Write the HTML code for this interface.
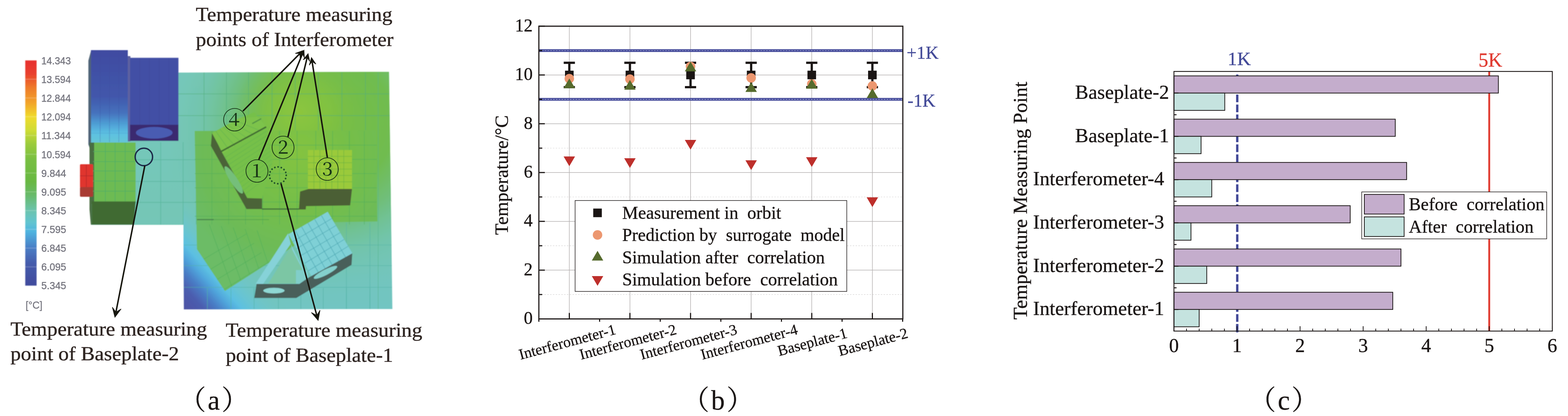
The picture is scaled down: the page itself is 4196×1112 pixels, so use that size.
<!DOCTYPE html>
<html lang="en"><head><meta charset="utf-8"><title>Figure</title>
<style>
html,body{margin:0;padding:0;background:#fff;}
body{width:4196px;height:1112px;overflow:hidden;}
svg{display:block;}
text{font-family:"Liberation Serif", "Noto Serif CJK SC", serif;white-space:pre;}
</style></head><body>
<svg width="4196" height="1112" viewBox="0 0 4196 1112">
<rect width="4196" height="1112" fill="#ffffff"/>
<defs>
<filter id="blr" x="-5%" y="-5%" width="110%" height="110%"><feGaussianBlur stdDeviation="1.1"/></filter>
<filter id="blt" x="-5%" y="-20%" width="110%" height="140%"><feGaussianBlur stdDeviation="0.7"/></filter>
<linearGradient id="cbar" x1="0" y1="0" x2="0" y2="1">
<stop offset="0" stop-color="#e7302e"/>
<stop offset="0.06" stop-color="#e8402d"/>
<stop offset="0.12" stop-color="#ee7a2b"/>
<stop offset="0.19" stop-color="#f2a52b"/>
<stop offset="0.25" stop-color="#f0da2c"/>
<stop offset="0.31" stop-color="#cfdc35"/>
<stop offset="0.37" stop-color="#9ccb3c"/>
<stop offset="0.44" stop-color="#78bf42"/>
<stop offset="0.54" stop-color="#68b843"/>
<stop offset="0.60" stop-color="#67ba6c"/>
<stop offset="0.67" stop-color="#6cc4b0"/>
<stop offset="0.72" stop-color="#62c4d0"/>
<stop offset="0.76" stop-color="#4fb4e0"/>
<stop offset="0.83" stop-color="#4a7fc6"/>
<stop offset="0.90" stop-color="#455cac"/>
<stop offset="1" stop-color="#414a9c"/>
</linearGradient>
<linearGradient id="tall" x1="0" y1="0" x2="0" y2="1">
<stop offset="0" stop-color="#414ba1"/>
<stop offset="0.5" stop-color="#4257ab"/>
<stop offset="0.68" stop-color="#4572bd"/>
<stop offset="0.8" stop-color="#4f9fd6"/>
<stop offset="0.9" stop-color="#5cc0e2"/>
<stop offset="1" stop-color="#66c6d6"/>
</linearGradient>
<linearGradient id="plateH" gradientUnits="userSpaceOnUse" x1="0" y1="193" x2="0" y2="827">
<stop offset="0" stop-color="#76c8be"/>
<stop offset="0.6" stop-color="#74c6b6"/>
<stop offset="1" stop-color="#72c5c2"/>
</linearGradient>
<radialGradient id="gtop" cx="880" cy="330" r="460" gradientUnits="userSpaceOnUse">
<stop offset="0" stop-color="#78be44" stop-opacity="1"/>
<stop offset="0.38" stop-color="#70bc50" stop-opacity="1"/>
<stop offset="0.55" stop-color="#6fbe74" stop-opacity="0.9"/>
<stop offset="0.75" stop-color="#71c3a0" stop-opacity="0.55"/>
<stop offset="1" stop-color="#74c6b6" stop-opacity="0"/>
</radialGradient>
<radialGradient id="gtop2" cx="800" cy="300" r="170" gradientUnits="userSpaceOnUse">
<stop offset="0" stop-color="#8cc63e" stop-opacity="1"/>
<stop offset="0.5" stop-color="#84c340" stop-opacity="0.7"/>
<stop offset="1" stop-color="#78be44" stop-opacity="0"/>
</radialGradient>
<linearGradient id="bcorner" gradientUnits="userSpaceOnUse" x1="490" y1="829" x2="650" y2="686">
<stop offset="0" stop-color="#4e52a3"/>
<stop offset="0.2" stop-color="#4c5cae"/>
<stop offset="0.34" stop-color="#4a7ec6"/>
<stop offset="0.46" stop-color="#50a6dc"/>
<stop offset="0.56" stop-color="#5cc0e2"/>
<stop offset="0.72" stop-color="#68c5d4" stop-opacity="0.7"/>
<stop offset="1" stop-color="#74c6b8" stop-opacity="0"/>
</linearGradient>
<radialGradient id="ptop" cx="800" cy="410" r="330" gradientUnits="userSpaceOnUse">
<stop offset="0" stop-color="#84c341"/>
<stop offset="0.4" stop-color="#76bf48"/>
<stop offset="0.8" stop-color="#6dbb58"/>
<stop offset="1" stop-color="#6cbc66"/>
</radialGradient>
<clipPath id="plateclip"><polygon points="244,376 477,376 477,194 1041,192 1050,826 492,827 491,601 244,601"/></clipPath>
</defs>
<g id="panel-a">
<g filter="url(#blr)">
<rect x="67.600" y="161.500" width="30.300" height="602" fill="url(#cbar)"/>
<line x1="67.6" x2="97.9" y1="211.7" y2="211.7" stroke="#ffffff" stroke-width="1.500" opacity="0.3"/>
<line x1="67.6" x2="97.9" y1="261.8" y2="261.8" stroke="#ffffff" stroke-width="1.500" opacity="0.3"/>
<line x1="67.6" x2="97.9" y1="312.0" y2="312.0" stroke="#ffffff" stroke-width="1.500" opacity="0.3"/>
<line x1="67.6" x2="97.9" y1="362.2" y2="362.2" stroke="#ffffff" stroke-width="1.500" opacity="0.3"/>
<line x1="67.6" x2="97.9" y1="412.4" y2="412.4" stroke="#ffffff" stroke-width="1.500" opacity="0.3"/>
<line x1="67.6" x2="97.9" y1="462.5" y2="462.5" stroke="#ffffff" stroke-width="1.500" opacity="0.3"/>
<line x1="67.6" x2="97.9" y1="512.7" y2="512.7" stroke="#ffffff" stroke-width="1.500" opacity="0.3"/>
<line x1="67.6" x2="97.9" y1="562.9" y2="562.9" stroke="#ffffff" stroke-width="1.500" opacity="0.3"/>
<line x1="67.6" x2="97.9" y1="613.0" y2="613.0" stroke="#ffffff" stroke-width="1.500" opacity="0.3"/>
<line x1="67.6" x2="97.9" y1="663.2" y2="663.2" stroke="#ffffff" stroke-width="1.500" opacity="0.3"/>
<line x1="67.6" x2="97.9" y1="713.4" y2="713.4" stroke="#ffffff" stroke-width="1.500" opacity="0.3"/>
<g clip-path="url(#plateclip)">
<rect x="240" y="190" width="815" height="640" fill="url(#plateH)"/>
<rect x="240" y="190" width="815" height="640" fill="url(#gtop)"/>
<rect x="240" y="190" width="815" height="640" fill="url(#gtop2)"/>
<rect x="491" y="540" width="565" height="290" fill="url(#bcorner)"/>
<line x1="546" y1="193" x2="546" y2="350" stroke="#4fae7a" stroke-width="2" opacity="0.55"/>
<line x1="606" y1="193" x2="606" y2="350" stroke="#4fae7a" stroke-width="2" opacity="0.55"/>
<line x1="665" y1="193" x2="665" y2="350" stroke="#4fae7a" stroke-width="2" opacity="0.55"/>
<line x1="728" y1="193" x2="728" y2="350" stroke="#4fae7a" stroke-width="2" opacity="0.55"/>
<line x1="790" y1="193" x2="790" y2="350" stroke="#4fae7a" stroke-width="2" opacity="0.55"/>
<line x1="852" y1="193" x2="852" y2="350" stroke="#4fae7a" stroke-width="2" opacity="0.55"/>
<line x1="915" y1="193" x2="915" y2="350" stroke="#4fae7a" stroke-width="2" opacity="0.55"/>
<line x1="978" y1="193" x2="978" y2="350" stroke="#4fae7a" stroke-width="2" opacity="0.55"/>
<line x1="477" y1="251" x2="1045" y2="251" stroke="#4fae7a" stroke-width="2" opacity="0.55"/>
<line x1="477" y1="309" x2="1045" y2="309" stroke="#4fae7a" stroke-width="2" opacity="0.55"/>
<line x1="430" y1="380" x2="430" y2="600" stroke="#52b296" stroke-width="2" opacity="0.6"/>
<line x1="490" y1="380" x2="490" y2="600" stroke="#52b296" stroke-width="2" opacity="0.6"/>
<line x1="525" y1="380" x2="525" y2="600" stroke="#52b296" stroke-width="2" opacity="0.6"/>
<line x1="362" y1="427" x2="525" y2="427" stroke="#52b296" stroke-width="2" opacity="0.6"/>
<line x1="362" y1="485" x2="525" y2="485" stroke="#52b296" stroke-width="2" opacity="0.6"/>
<line x1="362" y1="541" x2="525" y2="541" stroke="#52b296" stroke-width="2" opacity="0.6"/>
<line x1="555" y1="770" x2="555" y2="826" stroke="#52b2a6" stroke-width="2" opacity="0.6"/>
<line x1="618" y1="770" x2="618" y2="826" stroke="#52b2a6" stroke-width="2" opacity="0.6"/>
<line x1="680" y1="770" x2="680" y2="826" stroke="#52b2a6" stroke-width="2" opacity="0.6"/>
<line x1="745" y1="770" x2="745" y2="826" stroke="#52b2a6" stroke-width="2" opacity="0.6"/>
<line x1="805" y1="770" x2="805" y2="826" stroke="#52b2a6" stroke-width="2" opacity="0.6"/>
<line x1="865" y1="770" x2="865" y2="826" stroke="#52b2a6" stroke-width="2" opacity="0.6"/>
<line x1="927" y1="770" x2="927" y2="826" stroke="#52b2a6" stroke-width="2" opacity="0.6"/>
<line x1="990" y1="770" x2="990" y2="826" stroke="#52b2a6" stroke-width="2" opacity="0.6"/>
<line x1="492" y1="655" x2="1050" y2="655" stroke="#52b2a6" stroke-width="2" opacity="0.5"/>
<line x1="492" y1="710" x2="1050" y2="710" stroke="#52b2a6" stroke-width="2" opacity="0.5"/>
<line x1="492" y1="768" x2="1050" y2="768" stroke="#52b2a6" stroke-width="2" opacity="0.5"/>
<line x1="1012" y1="193" x2="1012" y2="826" stroke="#52b28a" stroke-width="2" opacity="0.5"/>
<line x1="927" y1="595" x2="927" y2="826" stroke="#52b2a6" stroke-width="2" opacity="0.5"/>
<line x1="990" y1="595" x2="990" y2="826" stroke="#52b2a6" stroke-width="2" opacity="0.5"/>
</g>
<polygon points="521,350 1006,348 1010,592 880,594 716,705 602,778 527,666" fill="url(#ptop)"/>
<line x1="567" y1="350" x2="567" y2="600" stroke="#4fae5a" stroke-width="2" opacity="0.5"/>
<line x1="612" y1="350" x2="612" y2="600" stroke="#4fae5a" stroke-width="2" opacity="0.5"/>
<line x1="657" y1="350" x2="657" y2="600" stroke="#4fae5a" stroke-width="2" opacity="0.5"/>
<line x1="703" y1="350" x2="703" y2="600" stroke="#4fae5a" stroke-width="2" opacity="0.5"/>
<line x1="748" y1="350" x2="748" y2="600" stroke="#4fae5a" stroke-width="2" opacity="0.5"/>
<line x1="795" y1="350" x2="795" y2="600" stroke="#4fae5a" stroke-width="2" opacity="0.5"/>
<line x1="845" y1="350" x2="845" y2="600" stroke="#4fae5a" stroke-width="2" opacity="0.5"/>
<line x1="890" y1="350" x2="890" y2="600" stroke="#4fae5a" stroke-width="2" opacity="0.5"/>
<line x1="935" y1="350" x2="935" y2="600" stroke="#4fae5a" stroke-width="2" opacity="0.5"/>
<line x1="975" y1="350" x2="975" y2="600" stroke="#4fae5a" stroke-width="2" opacity="0.5"/>
<line x1="521" y1="388" x2="1008" y2="388" stroke="#4fae5a" stroke-width="2" opacity="0.5"/>
<line x1="521" y1="426" x2="1008" y2="426" stroke="#4fae5a" stroke-width="2" opacity="0.5"/>
<line x1="521" y1="464" x2="1008" y2="464" stroke="#4fae5a" stroke-width="2" opacity="0.5"/>
<line x1="521" y1="502" x2="1008" y2="502" stroke="#4fae5a" stroke-width="2" opacity="0.5"/>
<line x1="521" y1="540" x2="1008" y2="540" stroke="#4fae5a" stroke-width="2" opacity="0.5"/>
<line x1="521" y1="578" x2="1008" y2="578" stroke="#4fae5a" stroke-width="2" opacity="0.5"/>
<line x1="545" y1="693" x2="660" y2="625" stroke="#4fae5a" stroke-width="2" opacity="0.55"/>
<line x1="563" y1="720" x2="680" y2="650" stroke="#4fae5a" stroke-width="2" opacity="0.55"/>
<line x1="581" y1="747" x2="700" y2="675" stroke="#4fae5a" stroke-width="2" opacity="0.55"/>
<line x1="599" y1="774" x2="720" y2="700" stroke="#4fae5a" stroke-width="2" opacity="0.55"/>
<line x1="560" y1="600" x2="620" y2="765" stroke="#4fae5a" stroke-width="2" opacity="0.55"/>
<line x1="592" y1="604" x2="644" y2="749" stroke="#4fae5a" stroke-width="2" opacity="0.55"/>
<line x1="624" y1="608" x2="668" y2="733" stroke="#4fae5a" stroke-width="2" opacity="0.55"/>
<line x1="656" y1="612" x2="692" y2="717" stroke="#4fae5a" stroke-width="2" opacity="0.55"/>
<line x1="688" y1="616" x2="716" y2="701" stroke="#4fae5a" stroke-width="2" opacity="0.55"/>
<line x1="527" y1="587" x2="572" y2="587" stroke="#3d6d45" stroke-width="2.500" opacity="0.85"/>
<line x1="572" y1="587" x2="720" y2="587" stroke="#3d8d45" stroke-width="2" opacity="0.45"/>
<polygon points="567,356 628,322 680,300 712,339 730,430 701,531 662,529 583,384" fill="#76c04a"/>
<polygon points="567,356 640,316 690,312 712,339 596,411 583,384" fill="#7dc34c"/>
<line x1="577" y1="350" x2="613" y2="401" stroke="#5aae50" stroke-width="1.500" opacity="0.6"/>
<line x1="588" y1="345" x2="629" y2="390" stroke="#5aae50" stroke-width="1.500" opacity="0.6"/>
<line x1="598" y1="339" x2="646" y2="380" stroke="#5aae50" stroke-width="1.500" opacity="0.6"/>
<line x1="609" y1="333" x2="662" y2="370" stroke="#5aae50" stroke-width="1.500" opacity="0.6"/>
<line x1="619" y1="327" x2="679" y2="360" stroke="#5aae50" stroke-width="1.500" opacity="0.6"/>
<line x1="630" y1="322" x2="695" y2="349" stroke="#5aae50" stroke-width="1.500" opacity="0.6"/>
<line x1="602" y1="421" x2="714" y2="350" stroke="#5aae50" stroke-width="1.500" opacity="0.45"/>
<line x1="607" y1="431" x2="716" y2="361" stroke="#5aae50" stroke-width="1.500" opacity="0.45"/>
<line x1="612" y1="440" x2="718" y2="372" stroke="#5aae50" stroke-width="1.500" opacity="0.45"/>
<line x1="618" y1="450" x2="720" y2="383" stroke="#5aae50" stroke-width="1.500" opacity="0.45"/>
<line x1="624" y1="460" x2="722" y2="394" stroke="#5aae50" stroke-width="1.500" opacity="0.45"/>
<line x1="629" y1="470" x2="724" y2="404" stroke="#5aae50" stroke-width="1.500" opacity="0.45"/>
<line x1="634" y1="480" x2="725" y2="415" stroke="#5aae50" stroke-width="1.500" opacity="0.45"/>
<line x1="640" y1="490" x2="727" y2="426" stroke="#5aae50" stroke-width="1.500" opacity="0.45"/>
<line x1="646" y1="500" x2="729" y2="437" stroke="#5aae50" stroke-width="1.500" opacity="0.45"/>
<line x1="651" y1="509" x2="731" y2="448" stroke="#5aae50" stroke-width="1.500" opacity="0.45"/>
<line x1="656" y1="519" x2="733" y2="459" stroke="#5aae50" stroke-width="1.500" opacity="0.45"/>
<polygon points="567.3,355.9 564.3,390.1 659.6,558.8 701.3,558.8 701.3,530.7 661.8,529.4 595.9,410.8 582.7,384.4" fill="#4b6338"/>
<ellipse cx="625.5" cy="481" rx="43" ry="9.500" transform="rotate(57 625.5 481)" fill="#74bf7a"/>
<line x1="591.5" y1="405" x2="712.3" y2="339.2" stroke="#416a32" stroke-width="4"/>
<line x1="675" y1="330.4" x2="699" y2="317.2" stroke="#4f9045" stroke-width="3"/>
<line x1="701" y1="558.8" x2="800" y2="558.8" stroke="#3e6a3a" stroke-width="3"/>
<line x1="527" y1="587" x2="700" y2="587" stroke="#3d7d45" stroke-width="2.500" opacity="0.0"/>
<rect x="824" y="401" width="118" height="104" fill="#9aca3b"/>
<line x1="840" y1="401" x2="840" y2="505" stroke="#5ea840" stroke-width="1.5" opacity="0.6"/>
<line x1="856" y1="401" x2="856" y2="505" stroke="#5ea840" stroke-width="1.5" opacity="0.6"/>
<line x1="872" y1="401" x2="872" y2="505" stroke="#5ea840" stroke-width="1.5" opacity="0.6"/>
<line x1="888" y1="401" x2="888" y2="505" stroke="#5ea840" stroke-width="1.5" opacity="0.6"/>
<line x1="904" y1="401" x2="904" y2="505" stroke="#5ea840" stroke-width="1.5" opacity="0.6"/>
<line x1="920" y1="401" x2="920" y2="505" stroke="#5ea840" stroke-width="1.5" opacity="0.6"/>
<line x1="824" y1="418" x2="942" y2="418" stroke="#5ea840" stroke-width="1.5" opacity="0.6"/>
<line x1="824" y1="435" x2="942" y2="435" stroke="#5ea840" stroke-width="1.5" opacity="0.6"/>
<line x1="824" y1="452" x2="942" y2="452" stroke="#5ea840" stroke-width="1.5" opacity="0.6"/>
<line x1="824" y1="469" x2="942" y2="469" stroke="#5ea840" stroke-width="1.5" opacity="0.6"/>
<line x1="824" y1="486" x2="942" y2="486" stroke="#5ea840" stroke-width="1.5" opacity="0.6"/>
<polygon points="803,512 826,505 942,505 937,549 819,551 818,560 800,560" fill="#4c5e34"/>
<polygon points="772,626 877,566 943,677 836,743" fill="#7fd0d6"/>
<polygon points="771,624 684,759 704,759 778,652 824,743 800,760 790,700" fill="#86d2d8"/>
<polygon points="778,660 718,758 800,758 822,744" fill="#7cc6a4"/>
<polygon points="792,722 822,722 826,742 800,758 792,758" fill="#82d0d2" opacity="0.8"/>
<line x1="790" y1="616" x2="854" y2="732" stroke="#4fa9b4" stroke-width="2" opacity="0.7"/>
<line x1="783" y1="646" x2="888" y2="584" stroke="#4fa9b4" stroke-width="2" opacity="0.7"/>
<line x1="807" y1="606" x2="872" y2="721" stroke="#4fa9b4" stroke-width="2" opacity="0.7"/>
<line x1="793" y1="665" x2="899" y2="603" stroke="#4fa9b4" stroke-width="2" opacity="0.7"/>
<line x1="824" y1="596" x2="890" y2="710" stroke="#4fa9b4" stroke-width="2" opacity="0.7"/>
<line x1="804" y1="684" x2="910" y2="622" stroke="#4fa9b4" stroke-width="2" opacity="0.7"/>
<line x1="842" y1="586" x2="907" y2="699" stroke="#4fa9b4" stroke-width="2" opacity="0.7"/>
<line x1="815" y1="704" x2="921" y2="640" stroke="#4fa9b4" stroke-width="2" opacity="0.7"/>
<line x1="860" y1="576" x2="925" y2="688" stroke="#4fa9b4" stroke-width="2" opacity="0.7"/>
<line x1="825" y1="724" x2="932" y2="658" stroke="#4fa9b4" stroke-width="2" opacity="0.7"/>
<polygon points="686.6,759 801,759 824,743 942.7,677.3 940.7,708 793,796.500 680.5,796.500" fill="#485e5a"/>
<ellipse cx="733" cy="776.800" rx="28.500" ry="7.600" fill="#8fd8d4"/>
<ellipse cx="871" cy="728" rx="35" ry="7.500" transform="rotate(-27 871 728)" fill="#84d0cc"/>
<rect x="341" y="150" width="8" height="228" fill="#5d62a0"/>
<polygon points="236.5,162 244,134 244,400 241.5,400 236.5,386" fill="#4f6478"/>
<rect x="243.500" y="134" width="98.500" height="247" fill="url(#tall)"/>
<line x1="268" y1="136" x2="268" y2="380" stroke="#3a4a9a" stroke-width="1.500" opacity="0.35"/>
<line x1="293" y1="136" x2="293" y2="380" stroke="#3a4a9a" stroke-width="1.500" opacity="0.35"/>
<line x1="318" y1="136" x2="318" y2="380" stroke="#3a4a9a" stroke-width="1.500" opacity="0.35"/>
<line x1="244" y1="330" x2="342" y2="330" stroke="#4a9ac8" stroke-width="1.500" opacity="0.5"/>
<line x1="244" y1="356" x2="342" y2="356" stroke="#4a9ac8" stroke-width="1.500" opacity="0.5"/>
<polygon points="239.500,381 252.500,381 252.500,545 245.500,545 245.500,600.500 243,600.500 239.500,560" fill="#4a6e42"/>
<rect x="348" y="154.500" width="129.500" height="180" fill="#434fa5"/>
<line x1="374" y1="156" x2="374" y2="334" stroke="#3a4496" stroke-width="1.500" opacity="0.4"/>
<line x1="400" y1="156" x2="400" y2="334" stroke="#3a4496" stroke-width="1.500" opacity="0.4"/>
<line x1="426" y1="156" x2="426" y2="334" stroke="#3a4496" stroke-width="1.500" opacity="0.4"/>
<line x1="452" y1="156" x2="452" y2="334" stroke="#3a4496" stroke-width="1.500" opacity="0.4"/>
<rect x="348" y="333.500" width="129.500" height="43" fill="#3b2a70"/>
<ellipse cx="412.700" cy="354.800" rx="49" ry="15.600" fill="#4a5bb2"/>
<rect x="252" y="381" width="111" height="158" fill="#6dbb52"/>
<line x1="282" y1="381" x2="282" y2="538" stroke="#4fae6a" stroke-width="2" opacity="0.7"/>
<line x1="308" y1="381" x2="308" y2="538" stroke="#4fae6a" stroke-width="2" opacity="0.7"/>
<line x1="335" y1="381" x2="335" y2="538" stroke="#4fae6a" stroke-width="2" opacity="0.7"/>
<line x1="249" y1="405" x2="362" y2="405" stroke="#4fae6a" stroke-width="2" opacity="0.7"/>
<line x1="249" y1="432" x2="362" y2="432" stroke="#4fae6a" stroke-width="2" opacity="0.7"/>
<line x1="249" y1="457" x2="362" y2="457" stroke="#4fae6a" stroke-width="2" opacity="0.7"/>
<line x1="249" y1="484" x2="362" y2="484" stroke="#4fae6a" stroke-width="2" opacity="0.7"/>
<line x1="249" y1="511" x2="362" y2="511" stroke="#4fae6a" stroke-width="2" opacity="0.7"/>
<polygon points="245.500,538.500 363,538.500 358,600.500 245.500,600.500" fill="#416a33"/>
<rect x="214" y="439" width="35" height="63" rx="3" fill="#e0362f"/>
<rect x="214" y="500" width="35" height="26" rx="3" fill="#a83a32"/>
<line x1="231" y1="441" x2="231" y2="500" stroke="#b02a28" stroke-width="1.5"/>
<line x1="214" y1="470" x2="249" y2="470" stroke="#b02a28" stroke-width="1.5"/>
</g>
<g filter="url(#blt)" fill="none" stroke="#17130f" stroke-linecap="butt">
<circle cx="385" cy="419.500" r="23.300" stroke="#1f2c48" stroke-width="3.700"/>
<circle cx="743.500" cy="468.600" r="22.500" stroke="#24552a" stroke-width="4.600" stroke-linecap="round" stroke-dasharray="0.1 8.736"/>
<line x1="387.5" y1="443" x2="308.7" y2="842.1" stroke-width="3.9"/>
<polygon points="307.5,848.0 300.6,821.1 310.2,834.5 324.1,825.8" fill="#17130f" stroke-width="1.5" stroke-linejoin="miter"/>
<line x1="752" y1="491" x2="849.8" y2="850.7" stroke-width="3.9"/>
<polygon points="851.4,856.5 833.3,835.5 847.8,843.2 856.4,829.2" fill="#17130f" stroke-width="1.5" stroke-linejoin="miter"/>
<line x1="650" y1="297" x2="805.8" y2="139.8" stroke-width="3.9"/>
<polygon points="810.0,135.5 803.0,155.3 802.6,142.9 790.2,142.7" fill="#17130f" stroke-width="1.5" stroke-linejoin="miter"/>
<line x1="692" y1="428" x2="811.2" y2="139.5" stroke-width="3.9"/>
<polygon points="813.5,134.0 814.6,155.0 809.5,143.7 797.9,148.1" fill="#17130f" stroke-width="1.5" stroke-linejoin="miter"/>
<line x1="770.5" y1="366" x2="823.1" y2="149.3" stroke-width="3.9"/>
<polygon points="824.5,143.5 828.8,164.1 822.0,153.7 811.3,159.8" fill="#17130f" stroke-width="1.5" stroke-linejoin="miter"/>
<line x1="876" y1="421" x2="834.4" y2="159.9" stroke-width="3.9"/>
<polygon points="833.5,154.0 845.4,171.3 835.1,164.3 827.6,174.2" fill="#17130f" stroke-width="1.5" stroke-linejoin="miter"/>
</g>
<g filter="url(#blt)">
<text x="595.0" y="344.8" font-size="66" fill="#173016" style='font-family:"Noto Serif CJK SC","Noto Sans CJK SC",serif'>④</text>
<text x="724.5" y="419.0" font-size="66" fill="#173016" style='font-family:"Noto Serif CJK SC","Noto Sans CJK SC",serif'>②</text>
<text x="654.7" y="481.9" font-size="66" fill="#173016" style='font-family:"Noto Serif CJK SC","Noto Sans CJK SC",serif'>①</text>
<text x="842.8" y="476.6" font-size="66" fill="#173016" style='font-family:"Noto Serif CJK SC","Noto Sans CJK SC",serif'>③</text>
<text x="110.5" y="172.0" font-size="28" fill="#74747e" text-anchor="start" style='font-family:"Liberation Sans", sans-serif' textLength="79" lengthAdjust="spacingAndGlyphs" stroke="#74747e" stroke-width="0.5">14.343</text>
<text x="110.5" y="222.1" font-size="28" fill="#74747e" text-anchor="start" style='font-family:"Liberation Sans", sans-serif' textLength="79" lengthAdjust="spacingAndGlyphs" stroke="#74747e" stroke-width="0.5">13.594</text>
<text x="110.5" y="272.2" font-size="28" fill="#74747e" text-anchor="start" style='font-family:"Liberation Sans", sans-serif' textLength="79" lengthAdjust="spacingAndGlyphs" stroke="#74747e" stroke-width="0.5">12.844</text>
<text x="110.5" y="322.3" font-size="28" fill="#74747e" text-anchor="start" style='font-family:"Liberation Sans", sans-serif' textLength="79" lengthAdjust="spacingAndGlyphs" stroke="#74747e" stroke-width="0.5">12.094</text>
<text x="110.5" y="372.4" font-size="28" fill="#74747e" text-anchor="start" style='font-family:"Liberation Sans", sans-serif' textLength="79" lengthAdjust="spacingAndGlyphs" stroke="#74747e" stroke-width="0.5">11.344</text>
<text x="110.5" y="422.5" font-size="28" fill="#74747e" text-anchor="start" style='font-family:"Liberation Sans", sans-serif' textLength="79" lengthAdjust="spacingAndGlyphs" stroke="#74747e" stroke-width="0.5">10.594</text>
<text x="110.5" y="472.6" font-size="28" fill="#74747e" text-anchor="start" style='font-family:"Liberation Sans", sans-serif' textLength="66.5" lengthAdjust="spacingAndGlyphs" stroke="#74747e" stroke-width="0.5">9.844</text>
<text x="110.5" y="522.7" font-size="28" fill="#74747e" text-anchor="start" style='font-family:"Liberation Sans", sans-serif' textLength="66.5" lengthAdjust="spacingAndGlyphs" stroke="#74747e" stroke-width="0.5">9.095</text>
<text x="110.5" y="572.8" font-size="28" fill="#74747e" text-anchor="start" style='font-family:"Liberation Sans", sans-serif' textLength="66.5" lengthAdjust="spacingAndGlyphs" stroke="#74747e" stroke-width="0.5">8.345</text>
<text x="110.5" y="622.9000000000001" font-size="28" fill="#74747e" text-anchor="start" style='font-family:"Liberation Sans", sans-serif' textLength="66.5" lengthAdjust="spacingAndGlyphs" stroke="#74747e" stroke-width="0.5">7.595</text>
<text x="110.5" y="673.0" font-size="28" fill="#74747e" text-anchor="start" style='font-family:"Liberation Sans", sans-serif' textLength="66.5" lengthAdjust="spacingAndGlyphs" stroke="#74747e" stroke-width="0.5">6.845</text>
<text x="110.5" y="723.1" font-size="28" fill="#74747e" text-anchor="start" style='font-family:"Liberation Sans", sans-serif' textLength="66.5" lengthAdjust="spacingAndGlyphs" stroke="#74747e" stroke-width="0.5">6.095</text>
<text x="110.5" y="773.2" font-size="28" fill="#74747e" text-anchor="start" style='font-family:"Liberation Sans", sans-serif' textLength="66.5" lengthAdjust="spacingAndGlyphs" stroke="#74747e" stroke-width="0.5">5.345</text>
<text x="68.5" y="825" font-size="28" fill="#74747e" text-anchor="start" style='font-family:"Liberation Sans", sans-serif' textLength="45" lengthAdjust="spacingAndGlyphs" stroke="#74747e" stroke-width="0.4">[°C]</text>
<text x="524" y="55.8" font-size="52.5" fill="#2e2522" text-anchor="start" textLength="526" lengthAdjust="spacingAndGlyphs" stroke="#2e2522" stroke-width="0.55">Temperature measuring</text>
<text x="524" y="123.2" font-size="52.5" fill="#2e2522" text-anchor="start" textLength="529" lengthAdjust="spacingAndGlyphs" stroke="#2e2522" stroke-width="0.55">points of Interferometer</text>
<text x="28" y="896.5" font-size="52.5" fill="#2e2522" text-anchor="start" textLength="526" lengthAdjust="spacingAndGlyphs" stroke="#2e2522" stroke-width="0.55">Temperature measuring</text>
<text x="28" y="963" font-size="52.5" fill="#2e2522" text-anchor="start" textLength="451" lengthAdjust="spacingAndGlyphs" stroke="#2e2522" stroke-width="0.55">point of Baseplate-2</text>
<text x="604" y="899.5" font-size="52.5" fill="#2e2522" text-anchor="start" textLength="526" lengthAdjust="spacingAndGlyphs" stroke="#2e2522" stroke-width="0.55">Temperature measuring</text>
<text x="604" y="966.8" font-size="52.5" fill="#2e2522" text-anchor="start" textLength="448" lengthAdjust="spacingAndGlyphs" stroke="#2e2522" stroke-width="0.55">point of Baseplate-1</text>
</g>
<text y="1095.300" font-size="73" fill="#1a1514" stroke="#1a1514" stroke-width="0.4"><tspan x="478.5">（</tspan><tspan x="555.7">a</tspan><tspan x="592.4">）</tspan></text>
</g>
<g id="panel-b">
<line x1="1442" x2="2416" y1="722.1" y2="722.1" stroke="#b4b0b0" stroke-width="1.500"/>
<line x1="1442" x2="2416" y1="591.7" y2="591.7" stroke="#b4b0b0" stroke-width="1.500"/>
<line x1="1442" x2="2416" y1="461.2" y2="461.2" stroke="#b4b0b0" stroke-width="1.500"/>
<line x1="1442" x2="2416" y1="330.8" y2="330.8" stroke="#b4b0b0" stroke-width="1.500"/>
<line x1="1442" x2="2416" y1="200.4" y2="200.4" stroke="#b4b0b0" stroke-width="1.500"/>
<line x1="1442" x2="2416" y1="787.3" y2="787.3" stroke="#d4d2d2" stroke-width="1.200" stroke-dasharray="4 3.500"/>
<line x1="1442" x2="2416" y1="656.9" y2="656.9" stroke="#d4d2d2" stroke-width="1.200" stroke-dasharray="4 3.500"/>
<line x1="1442" x2="2416" y1="526.5" y2="526.5" stroke="#d4d2d2" stroke-width="1.200" stroke-dasharray="4 3.500"/>
<line x1="1442" x2="2416" y1="396.0" y2="396.0" stroke="#d4d2d2" stroke-width="1.200" stroke-dasharray="4 3.500"/>
<line x1="1442" x2="2416" y1="265.6" y2="265.6" stroke="#d4d2d2" stroke-width="1.200" stroke-dasharray="4 3.500"/>
<line x1="1442" x2="2416" y1="135.2" y2="135.2" stroke="#d4d2d2" stroke-width="1.200" stroke-dasharray="4 3.500"/>
<line x1="1523.5" x2="1523.5" y1="70" y2="852.5" stroke="#b4b0b0" stroke-width="1.500"/>
<line x1="1685.7" x2="1685.7" y1="70" y2="852.5" stroke="#b4b0b0" stroke-width="1.500"/>
<line x1="1847.9" x2="1847.9" y1="70" y2="852.5" stroke="#b4b0b0" stroke-width="1.500"/>
<line x1="2010.1" x2="2010.1" y1="70" y2="852.5" stroke="#b4b0b0" stroke-width="1.500"/>
<line x1="2172.3" x2="2172.3" y1="70" y2="852.5" stroke="#b4b0b0" stroke-width="1.500"/>
<line x1="2334.5" x2="2334.5" y1="70" y2="852.5" stroke="#b4b0b0" stroke-width="1.500"/>
<line x1="1442" x2="2416" y1="135.2" y2="135.2" stroke="#474d9b" stroke-width="7.500"/>
<line x1="1450" x2="2416" y1="135.2" y2="135.2" stroke="#c9cdf0" stroke-width="1.100" stroke-dasharray="4.500 3"/>
<line x1="1442" x2="2416" y1="265.6" y2="265.6" stroke="#474d9b" stroke-width="7.500"/>
<line x1="1450" x2="2416" y1="265.6" y2="265.6" stroke="#c9cdf0" stroke-width="1.100" stroke-dasharray="4.500 3"/>
<rect x="1442" y="70" width="974" height="782.5" fill="none" stroke="#1a1514" stroke-width="3"/>
<line x1="1442" x2="1458" y1="852.5" y2="852.5" stroke="#1a1514" stroke-width="3"/>
<line x1="1442" x2="1451" y1="787.3" y2="787.3" stroke="#1a1514" stroke-width="3"/>
<line x1="1442" x2="1458" y1="722.1" y2="722.1" stroke="#1a1514" stroke-width="3"/>
<line x1="1442" x2="1451" y1="656.9" y2="656.9" stroke="#1a1514" stroke-width="3"/>
<line x1="1442" x2="1458" y1="591.7" y2="591.7" stroke="#1a1514" stroke-width="3"/>
<line x1="1442" x2="1451" y1="526.5" y2="526.5" stroke="#1a1514" stroke-width="3"/>
<line x1="1442" x2="1458" y1="461.2" y2="461.2" stroke="#1a1514" stroke-width="3"/>
<line x1="1442" x2="1451" y1="396.0" y2="396.0" stroke="#1a1514" stroke-width="3"/>
<line x1="1442" x2="1458" y1="330.8" y2="330.8" stroke="#1a1514" stroke-width="3"/>
<line x1="1442" x2="1451" y1="265.6" y2="265.6" stroke="#1a1514" stroke-width="3"/>
<line x1="1442" x2="1458" y1="200.4" y2="200.4" stroke="#1a1514" stroke-width="3"/>
<line x1="1442" x2="1451" y1="135.2" y2="135.2" stroke="#1a1514" stroke-width="3"/>
<line x1="1442" x2="1458" y1="70.0" y2="70.0" stroke="#1a1514" stroke-width="3"/>
<line x1="1523.5" x2="1523.5" y1="852.5" y2="836.5" stroke="#1a1514" stroke-width="3"/>
<line x1="1604.6" x2="1604.6" y1="852.5" y2="860.0" stroke="#1a1514" stroke-width="3"/>
<line x1="1685.7" x2="1685.7" y1="852.5" y2="836.5" stroke="#1a1514" stroke-width="3"/>
<line x1="1766.8" x2="1766.8" y1="852.5" y2="860.0" stroke="#1a1514" stroke-width="3"/>
<line x1="1847.9" x2="1847.9" y1="852.5" y2="836.5" stroke="#1a1514" stroke-width="3"/>
<line x1="1929.0" x2="1929.0" y1="852.5" y2="860.0" stroke="#1a1514" stroke-width="3"/>
<line x1="2010.1" x2="2010.1" y1="852.5" y2="836.5" stroke="#1a1514" stroke-width="3"/>
<line x1="2091.2" x2="2091.2" y1="852.5" y2="860.0" stroke="#1a1514" stroke-width="3"/>
<line x1="2172.3" x2="2172.3" y1="852.5" y2="836.5" stroke="#1a1514" stroke-width="3"/>
<line x1="2253.4" x2="2253.4" y1="852.5" y2="860.0" stroke="#1a1514" stroke-width="3"/>
<line x1="2334.5" x2="2334.5" y1="852.5" y2="836.5" stroke="#1a1514" stroke-width="3"/>
<line x1="2415.5" x2="2415.5" y1="852.5" y2="860.0" stroke="#1a1514" stroke-width="3"/>
<line x1="1442" x2="1442" y1="852.5" y2="860.0" stroke="#1a1514" stroke-width="3"/>
<text x="1425.5" y="866.3" font-size="47.5" fill="#1a1514" text-anchor="end"  stroke="#1a1514" stroke-width="0.45">0</text>
<text x="1425.5" y="735.8833333333333" font-size="47.5" fill="#1a1514" text-anchor="end"  stroke="#1a1514" stroke-width="0.45">2</text>
<text x="1425.5" y="605.4666666666667" font-size="47.5" fill="#1a1514" text-anchor="end"  stroke="#1a1514" stroke-width="0.45">4</text>
<text x="1425.5" y="475.05" font-size="47.5" fill="#1a1514" text-anchor="end"  stroke="#1a1514" stroke-width="0.45">6</text>
<text x="1425.5" y="344.6333333333334" font-size="47.5" fill="#1a1514" text-anchor="end"  stroke="#1a1514" stroke-width="0.45">8</text>
<text x="1425.5" y="214.21666666666664" font-size="47.5" fill="#1a1514" text-anchor="end"  stroke="#1a1514" stroke-width="0.45">10</text>
<text x="1425.5" y="83.8" font-size="47.5" fill="#1a1514" text-anchor="end"  stroke="#1a1514" stroke-width="0.45">12</text>
<text x="0" y="0" font-size="50.5" fill="#1a1514" text-anchor="middle" transform="translate(1358.500,468) rotate(-90)" textLength="320" lengthAdjust="spacingAndGlyphs" stroke="#1a1514" stroke-width="0.45">Temperature/°C</text>
<text x="0" y="0" font-size="40.5" fill="#1a1514" text-anchor="middle" transform="translate(1521.5,927) rotate(-15)"  stroke="#1a1514" stroke-width="0.45">Interferometer-1</text>
<text x="0" y="0" font-size="40.5" fill="#1a1514" text-anchor="middle" transform="translate(1683.7,927) rotate(-15)"  stroke="#1a1514" stroke-width="0.45">Interferometer-2</text>
<text x="0" y="0" font-size="40.5" fill="#1a1514" text-anchor="middle" transform="translate(1845.9,927) rotate(-15)"  stroke="#1a1514" stroke-width="0.45">Interferometer-3</text>
<text x="0" y="0" font-size="40.5" fill="#1a1514" text-anchor="middle" transform="translate(2008.1,927) rotate(-15)"  stroke="#1a1514" stroke-width="0.45">Interferometer-4</text>
<text x="0" y="0" font-size="40.5" fill="#1a1514" text-anchor="middle" transform="translate(2177.3,927) rotate(-15)"  stroke="#1a1514" stroke-width="0.45">Baseplate-1</text>
<text x="0" y="0" font-size="40.5" fill="#1a1514" text-anchor="middle" transform="translate(2339.5,927) rotate(-15)"  stroke="#1a1514" stroke-width="0.45">Baseplate-2</text>
<line x1="1523.5" x2="1523.5" y1="167.8" y2="233.0" stroke="#1a1514" stroke-width="6"/>
<line x1="1508.5" x2="1538.5" y1="167.8" y2="167.8" stroke="#1a1514" stroke-width="6"/>
<line x1="1508.5" x2="1538.5" y1="233.0" y2="233.0" stroke="#1a1514" stroke-width="6"/>
<rect x="1512.0" y="188.9" width="23" height="23" fill="#1a1514"/>
<line x1="1685.7" x2="1685.7" y1="167.8" y2="233.0" stroke="#1a1514" stroke-width="6"/>
<line x1="1670.7" x2="1700.7" y1="167.8" y2="167.8" stroke="#1a1514" stroke-width="6"/>
<line x1="1670.7" x2="1700.7" y1="233.0" y2="233.0" stroke="#1a1514" stroke-width="6"/>
<rect x="1674.2" y="188.9" width="23" height="23" fill="#1a1514"/>
<line x1="1847.9" x2="1847.9" y1="167.8" y2="233.0" stroke="#1a1514" stroke-width="6"/>
<line x1="1832.9" x2="1862.9" y1="167.8" y2="167.8" stroke="#1a1514" stroke-width="6"/>
<line x1="1832.9" x2="1862.9" y1="233.0" y2="233.0" stroke="#1a1514" stroke-width="6"/>
<rect x="1836.4" y="188.9" width="23" height="23" fill="#1a1514"/>
<line x1="2010.1" x2="2010.1" y1="167.8" y2="233.0" stroke="#1a1514" stroke-width="6"/>
<line x1="1995.1" x2="2025.1" y1="167.8" y2="167.8" stroke="#1a1514" stroke-width="6"/>
<line x1="1995.1" x2="2025.1" y1="233.0" y2="233.0" stroke="#1a1514" stroke-width="6"/>
<rect x="1998.6" y="188.9" width="23" height="23" fill="#1a1514"/>
<line x1="2172.3" x2="2172.3" y1="167.8" y2="233.0" stroke="#1a1514" stroke-width="6"/>
<line x1="2157.3" x2="2187.3" y1="167.8" y2="167.8" stroke="#1a1514" stroke-width="6"/>
<line x1="2157.3" x2="2187.3" y1="233.0" y2="233.0" stroke="#1a1514" stroke-width="6"/>
<rect x="2160.8" y="188.9" width="23" height="23" fill="#1a1514"/>
<line x1="2334.5" x2="2334.5" y1="167.8" y2="233.0" stroke="#1a1514" stroke-width="6"/>
<line x1="2319.5" x2="2349.5" y1="167.8" y2="167.8" stroke="#1a1514" stroke-width="6"/>
<line x1="2319.5" x2="2349.5" y1="233.0" y2="233.0" stroke="#1a1514" stroke-width="6"/>
<rect x="2323.0" y="188.9" width="23" height="23" fill="#1a1514"/>
<circle cx="1523.5" cy="210.2" r="12.700" fill="#ec9770"/>
<circle cx="1685.7" cy="211.5" r="12.700" fill="#ec9770"/>
<circle cx="1847.9" cy="177.6" r="12.700" fill="#ec9770"/>
<circle cx="2010.1" cy="208.2" r="12.700" fill="#ec9770"/>
<circle cx="2172.3" cy="224.5" r="12.700" fill="#ec9770"/>
<circle cx="2334.5" cy="229.8" r="12.700" fill="#ec9770"/>
<polygon points="1523.5,209.7 1508.2,235.7 1538.8,235.7" fill="#566b2d"/>
<polygon points="1685.7,213.7 1670.4,239.7 1701.0,239.7" fill="#566b2d"/>
<polygon points="1847.9,164.7 1832.6,190.7 1863.2,190.7" fill="#566b2d"/>
<polygon points="2010.1,219.8 1994.8,245.8 2025.4,245.8" fill="#566b2d"/>
<polygon points="2172.3,211.0 2157.0,237.0 2187.6,237.0" fill="#566b2d"/>
<polygon points="2334.5,236.1 2319.2,262.1 2349.8,262.1" fill="#566b2d"/>
<polygon points="1523.5,444.3 1508.2,418.3 1538.8,418.3" fill="#bd2f2b"/>
<polygon points="1685.7,449.1 1670.4,423.1 1701.0,423.1" fill="#bd2f2b"/>
<polygon points="1847.9,400.0 1832.6,374.0 1863.2,374.0" fill="#bd2f2b"/>
<polygon points="2010.1,454.5 1994.8,428.5 2025.4,428.5" fill="#bd2f2b"/>
<polygon points="2172.3,446.2 2157.0,420.2 2187.6,420.2" fill="#bd2f2b"/>
<polygon points="2334.5,553.5 2319.2,527.5 2349.8,527.5" fill="#bd2f2b"/>
<text x="2426" y="156.5" font-size="48" fill="#434a98" text-anchor="start"  stroke="#434a98" stroke-width="0.45">+1K</text>
<text x="2428.5" y="285" font-size="48" fill="#434a98" text-anchor="start"  stroke="#434a98" stroke-width="0.45">-1K</text>
<rect x="1539" y="536" width="727" height="243" fill="#fff" stroke="#1a1514" stroke-width="1.500"/>
<rect x="1587.5" y="557.5" width="23" height="23" fill="#1a1514"/>
<circle cx="1599" cy="628" r="12.700" fill="#ec9770"/>
<polygon points="1599,670.5 1583.7,696.5 1614.3,696.5" fill="#566b2d"/>
<polygon points="1599,764 1583.7,738 1614.3,738" fill="#bd2f2b"/>
<text x="1665" y="584.8" font-size="48" fill="#1a1514" text-anchor="start" textLength="425.4" lengthAdjust="spacingAndGlyphs" stroke="#1a1514" stroke-width="0.45">Measurement in  orbit</text>
<text x="1665" y="644.2" font-size="48" fill="#1a1514" text-anchor="start" textLength="595.5" lengthAdjust="spacingAndGlyphs" stroke="#1a1514" stroke-width="0.45">Prediction by  surrogate  model</text>
<text x="1665" y="703.6" font-size="48" fill="#1a1514" text-anchor="start" textLength="542.2" lengthAdjust="spacingAndGlyphs" stroke="#1a1514" stroke-width="0.45">Simulation after  correlation</text>
<text x="1665" y="762.6" font-size="48" fill="#1a1514" text-anchor="start" textLength="577.0" lengthAdjust="spacingAndGlyphs" stroke="#1a1514" stroke-width="0.45">Simulation before  correlation</text>
<text y="1095.300" font-size="73" fill="#1a1514" stroke="#1a1514" stroke-width="0.4"><tspan x="1825.5">（</tspan><tspan x="1903.0">b</tspan><tspan x="1944.0">）</tspan></text>
</g>
<g id="panel-c">
<line x1="3310.9" x2="3310.9" y1="199.360" y2="888" stroke="#434a98" stroke-width="6.300" stroke-dasharray="20.500 6.180"/>
<line x1="3310.9" x2="3310.9" y1="866.400" y2="888.500" stroke="#434a98" stroke-width="6.300"/>
<line x1="3985.2" x2="3985.2" y1="191" y2="885" stroke="#e03a30" stroke-width="5"/>
<rect x="3141.5" y="202.8" width="868.2" height="46" fill="#c4adcc" stroke="#1a1514" stroke-width="2"/>
<rect x="3141.5" y="248.8" width="136.0" height="46.300" fill="#c5e3df" stroke="#1a1514" stroke-width="2"/>
<rect x="3141.5" y="318.5" width="592.3" height="46" fill="#c4adcc" stroke="#1a1514" stroke-width="2"/>
<rect x="3141.5" y="364.5" width="72.6" height="46.300" fill="#c5e3df" stroke="#1a1514" stroke-width="2"/>
<rect x="3141.5" y="434.2" width="622.7" height="46" fill="#c4adcc" stroke="#1a1514" stroke-width="2"/>
<rect x="3141.5" y="480.2" width="101.2" height="46.300" fill="#c5e3df" stroke="#1a1514" stroke-width="2"/>
<rect x="3141.5" y="549.8" width="471.7" height="46" fill="#c4adcc" stroke="#1a1514" stroke-width="2"/>
<rect x="3141.5" y="595.8" width="45.6" height="46.300" fill="#c5e3df" stroke="#1a1514" stroke-width="2"/>
<rect x="3141.5" y="665.5" width="607.5" height="46" fill="#c4adcc" stroke="#1a1514" stroke-width="2"/>
<rect x="3141.5" y="711.5" width="87.8" height="46.300" fill="#c5e3df" stroke="#1a1514" stroke-width="2"/>
<rect x="3141.5" y="781.2" width="585.6" height="46" fill="#c4adcc" stroke="#1a1514" stroke-width="2"/>
<rect x="3141.5" y="827.2" width="67.5" height="46.300" fill="#c5e3df" stroke="#1a1514" stroke-width="2"/>
<rect x="3141.5" y="191" width="1012.5" height="694" fill="none" stroke="#1a1514" stroke-width="2.300"/>
<line x1="3141.5" x2="3141.5" y1="885" y2="872" stroke="#1a1514" stroke-width="2.100"/>
<line x1="3175.2" x2="3175.2" y1="885" y2="878.5" stroke="#1a1514" stroke-width="2.100"/>
<line x1="3209.0" x2="3209.0" y1="885" y2="878.5" stroke="#1a1514" stroke-width="2.100"/>
<line x1="3242.8" x2="3242.8" y1="885" y2="878.5" stroke="#1a1514" stroke-width="2.100"/>
<line x1="3276.5" x2="3276.5" y1="885" y2="878.5" stroke="#1a1514" stroke-width="2.100"/>
<line x1="3310.2" x2="3310.2" y1="885" y2="872" stroke="#1a1514" stroke-width="2.100"/>
<line x1="3344.0" x2="3344.0" y1="885" y2="878.5" stroke="#1a1514" stroke-width="2.100"/>
<line x1="3377.8" x2="3377.8" y1="885" y2="878.5" stroke="#1a1514" stroke-width="2.100"/>
<line x1="3411.5" x2="3411.5" y1="885" y2="878.5" stroke="#1a1514" stroke-width="2.100"/>
<line x1="3445.2" x2="3445.2" y1="885" y2="878.5" stroke="#1a1514" stroke-width="2.100"/>
<line x1="3479.0" x2="3479.0" y1="885" y2="872" stroke="#1a1514" stroke-width="2.100"/>
<line x1="3512.8" x2="3512.8" y1="885" y2="878.5" stroke="#1a1514" stroke-width="2.100"/>
<line x1="3546.5" x2="3546.5" y1="885" y2="878.5" stroke="#1a1514" stroke-width="2.100"/>
<line x1="3580.2" x2="3580.2" y1="885" y2="878.5" stroke="#1a1514" stroke-width="2.100"/>
<line x1="3614.0" x2="3614.0" y1="885" y2="878.5" stroke="#1a1514" stroke-width="2.100"/>
<line x1="3647.8" x2="3647.8" y1="885" y2="872" stroke="#1a1514" stroke-width="2.100"/>
<line x1="3681.5" x2="3681.5" y1="885" y2="878.5" stroke="#1a1514" stroke-width="2.100"/>
<line x1="3715.2" x2="3715.2" y1="885" y2="878.5" stroke="#1a1514" stroke-width="2.100"/>
<line x1="3749.0" x2="3749.0" y1="885" y2="878.5" stroke="#1a1514" stroke-width="2.100"/>
<line x1="3782.8" x2="3782.8" y1="885" y2="878.5" stroke="#1a1514" stroke-width="2.100"/>
<line x1="3816.5" x2="3816.5" y1="885" y2="872" stroke="#1a1514" stroke-width="2.100"/>
<line x1="3850.2" x2="3850.2" y1="885" y2="878.5" stroke="#1a1514" stroke-width="2.100"/>
<line x1="3884.0" x2="3884.0" y1="885" y2="878.5" stroke="#1a1514" stroke-width="2.100"/>
<line x1="3917.8" x2="3917.8" y1="885" y2="878.5" stroke="#1a1514" stroke-width="2.100"/>
<line x1="3951.5" x2="3951.5" y1="885" y2="878.5" stroke="#1a1514" stroke-width="2.100"/>
<line x1="3985.2" x2="3985.2" y1="885" y2="872" stroke="#1a1514" stroke-width="2.100"/>
<line x1="4019.0" x2="4019.0" y1="885" y2="878.5" stroke="#1a1514" stroke-width="2.100"/>
<line x1="4052.8" x2="4052.8" y1="885" y2="878.5" stroke="#1a1514" stroke-width="2.100"/>
<line x1="4086.5" x2="4086.5" y1="885" y2="878.5" stroke="#1a1514" stroke-width="2.100"/>
<line x1="4120.2" x2="4120.2" y1="885" y2="878.5" stroke="#1a1514" stroke-width="2.100"/>
<line x1="4154.0" x2="4154.0" y1="885" y2="872" stroke="#1a1514" stroke-width="2.100"/>
<text x="3141.5" y="940.7" font-size="52" fill="#1a1514" text-anchor="middle"  stroke="#1a1514" stroke-width="0.45">0</text>
<text x="3310.25" y="940.7" font-size="52" fill="#1a1514" text-anchor="middle"  stroke="#1a1514" stroke-width="0.45">1</text>
<text x="3479.0" y="940.7" font-size="52" fill="#1a1514" text-anchor="middle"  stroke="#1a1514" stroke-width="0.45">2</text>
<text x="3647.75" y="940.7" font-size="52" fill="#1a1514" text-anchor="middle"  stroke="#1a1514" stroke-width="0.45">3</text>
<text x="3816.5" y="940.7" font-size="52" fill="#1a1514" text-anchor="middle"  stroke="#1a1514" stroke-width="0.45">4</text>
<text x="3985.25" y="940.7" font-size="52" fill="#1a1514" text-anchor="middle"  stroke="#1a1514" stroke-width="0.45">5</text>
<text x="4154.0" y="940.7" font-size="52" fill="#1a1514" text-anchor="middle"  stroke="#1a1514" stroke-width="0.45">6</text>
<line x1="3141.5" x2="3153.5" y1="248.8" y2="248.8" stroke="#1a1514" stroke-width="2.500"/>
<line x1="3141.5" x2="3148.5" y1="306.7" y2="306.7" stroke="#1a1514" stroke-width="2.500"/>
<text x="3128.7" y="263.83333333333337" font-size="53.3" fill="#1a1514" text-anchor="end"  stroke="#1a1514" stroke-width="0.45">Baseplate-2</text>
<line x1="3141.5" x2="3153.5" y1="364.5" y2="364.5" stroke="#1a1514" stroke-width="2.500"/>
<line x1="3141.5" x2="3148.5" y1="422.3" y2="422.3" stroke="#1a1514" stroke-width="2.500"/>
<text x="3128.7" y="379.5" font-size="53.3" fill="#1a1514" text-anchor="end"  stroke="#1a1514" stroke-width="0.45">Baseplate-1</text>
<line x1="3141.5" x2="3153.5" y1="480.2" y2="480.2" stroke="#1a1514" stroke-width="2.500"/>
<line x1="3141.5" x2="3148.5" y1="538.0" y2="538.0" stroke="#1a1514" stroke-width="2.500"/>
<text x="3115.5" y="495.1666666666667" font-size="53.3" fill="#1a1514" text-anchor="end"  stroke="#1a1514" stroke-width="0.45">Interferometer-4</text>
<line x1="3141.5" x2="3153.5" y1="595.8" y2="595.8" stroke="#1a1514" stroke-width="2.500"/>
<line x1="3141.5" x2="3148.5" y1="653.7" y2="653.7" stroke="#1a1514" stroke-width="2.500"/>
<text x="3115.5" y="610.8333333333334" font-size="53.3" fill="#1a1514" text-anchor="end"  stroke="#1a1514" stroke-width="0.45">Interferometer-3</text>
<line x1="3141.5" x2="3153.5" y1="711.5" y2="711.5" stroke="#1a1514" stroke-width="2.500"/>
<line x1="3141.5" x2="3148.5" y1="769.3" y2="769.3" stroke="#1a1514" stroke-width="2.500"/>
<text x="3115.5" y="726.5" font-size="53.3" fill="#1a1514" text-anchor="end"  stroke="#1a1514" stroke-width="0.45">Interferometer-2</text>
<line x1="3141.5" x2="3153.5" y1="827.2" y2="827.2" stroke="#1a1514" stroke-width="2.500"/>
<text x="3115.5" y="842.1666666666667" font-size="53.3" fill="#1a1514" text-anchor="end"  stroke="#1a1514" stroke-width="0.45">Interferometer-1</text>
<text x="0" y="0" font-size="53.3" fill="#1a1514" text-anchor="middle" transform="translate(2747.500,536.300) rotate(-90)"  stroke="#1a1514" stroke-width="0.45">Temperature Measuring Point</text>
<text x="3316.25" y="173.8" font-size="51" fill="#434a98" text-anchor="middle"  stroke="#434a98" stroke-width="0.45">1K</text>
<text x="3988.25" y="177.7" font-size="52" fill="#e03a30" text-anchor="middle"  stroke="#e03a30" stroke-width="0.45">5K</text>
<rect x="3644" y="513" width="495" height="125.500" fill="#fff" stroke="#1a1514" stroke-width="1.500"/>
<rect x="3651" y="519.700" width="106.500" height="52.500" fill="#c4adcc" stroke="#1a1514" stroke-width="2"/>
<rect x="3651" y="579.700" width="106.500" height="52.500" fill="#c5e3df" stroke="#1a1514" stroke-width="2"/>
<text x="3770" y="562" font-size="48.5" fill="#1a1514" text-anchor="start" textLength="363" lengthAdjust="spacingAndGlyphs" stroke="#1a1514" stroke-width="0.45">Before  correlation</text>
<text x="3770" y="622" font-size="48.5" fill="#1a1514" text-anchor="start" textLength="334" lengthAdjust="spacingAndGlyphs" stroke="#1a1514" stroke-width="0.45">After  correlation</text>
<text y="1095.300" font-size="73" fill="#1a1514" stroke="#1a1514" stroke-width="0.4"><tspan x="3341.8">（</tspan><tspan x="3419.2">c</tspan><tspan x="3455.8">）</tspan></text>
</g>
</svg>
</body></html>
